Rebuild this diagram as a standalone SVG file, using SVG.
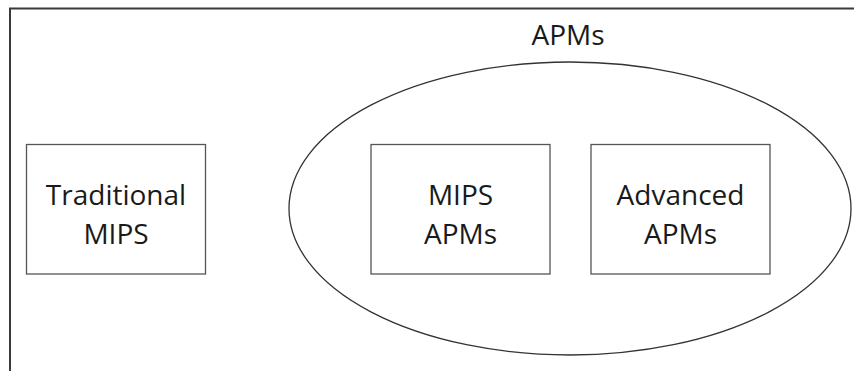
<svg xmlns="http://www.w3.org/2000/svg" width="854" height="371" viewBox="0 0 854 371">
<style>
.frame{fill:none;stroke:#3a3a3a;stroke-width:2}
.box{fill:#fff;stroke:#555;stroke-width:1.3}
.ell{fill:none;stroke:#333;stroke-width:1.3}
text{font-family:"Open Sans","Liberation Sans",sans-serif;font-size:28px;fill:#1a1a1a;text-anchor:middle}
</style>
<rect width="854" height="371" fill="#fff"/>
<g id="frame"><path class="frame" d="M10,371 V8.5 H854"/></g>
<g id="apms-group">
<ellipse class="ell" cx="570" cy="208.5" rx="281" ry="146.5"/>
<text x="568" y="45">APMs</text>
</g>
<g id="traditional-mips">
<rect class="box" x="26.5" y="144.5" width="179" height="129.5"/>
<text x="116" y="205">Traditional</text>
<text x="116" y="244">MIPS</text>
</g>
<g id="mips-apms">
<rect class="box" x="371" y="144.5" width="179" height="129.5"/>
<text x="460.5" y="205">MIPS</text>
<text x="460.5" y="244">APMs</text>
</g>
<g id="advanced-apms">
<rect class="box" x="591" y="144.5" width="179" height="129.5"/>
<text x="680.5" y="205">Advanced</text>
<text x="680.5" y="244">APMs</text>
</g>
<g id="connectors"></g>
</svg>
